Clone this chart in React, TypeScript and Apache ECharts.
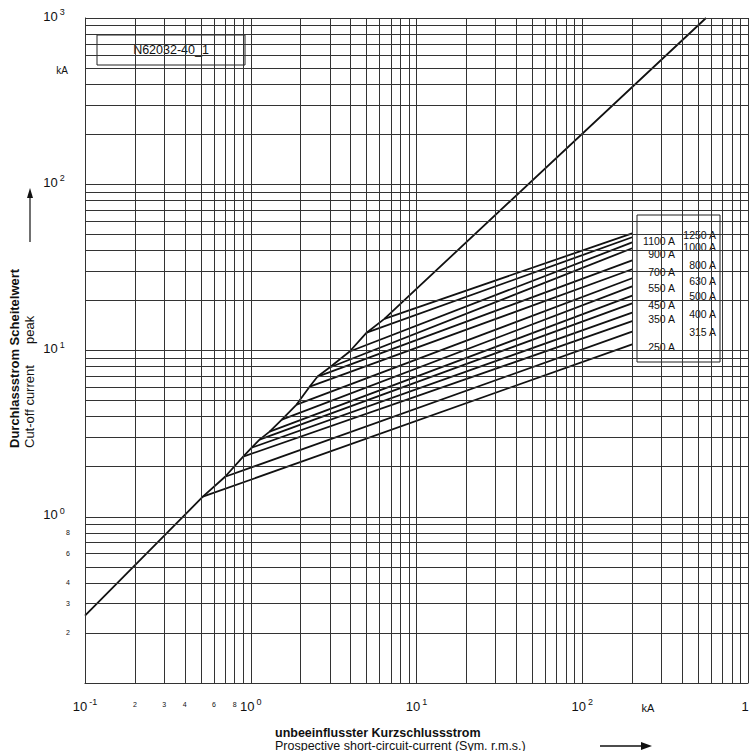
import { useEffect, useRef } from "react";
import * as echarts from "echarts";

const ratings = ["250 A", "315 A", "350 A", "400 A", "450 A", "500 A", "550 A", "630 A", "700 A", "800 A", "900 A", "1000 A", "1100 A", "1250 A"];
// breakpoint on the envelope [kA prospective, kA peak]
const breakX = [0.514, 0.7, 0.9, 1.01, 1.13, 1.3, 1.54, 1.89, 2.27, 2.53, 2.99, 3.95, 5.0, 6.4];
const breakY = [1.32, 1.74, 2.3, 2.6, 2.91, 3.25, 3.84, 4.73, 6.07, 6.97, 7.9, 9.86, 12.8, 15.5];
const endX = 200;
const endY = [10.9, 13.0, 15.0, 16.9, 19.2, 21.4, 24.3, 27.2, 30.8, 34.8, 41.2, 44.7, 48.0, 50.7];
const envStart = [0.1, 0.254];
const envEnd = [558, 1000];

const xDecades = [0.1, 1, 10, 100];
const yDecades = [0.1, 1, 10, 100];
const mults = [1, 2, 3, 4, 5, 6, 7, 8, 9];
const xMinorLabels = [2, 3, 4, 6, 8]; // in 0.1 decade
const yMinorLabels = [2, 3, 4, 6, 8];

// legend columns: [text, y]
const legLeft = [["1100 A", 241], ["900 A", 254], ["700 A", 272], ["550 A", 288], ["450 A", 305], ["350 A", 319], ["250 A", 347]];
const legRight = [["1250 A", 235], ["1000 A", 247], ["800 A", 265], ["630 A", 281], ["500 A", 296], ["400 A", 314], ["315 A", 332]];

const FONT = "Liberation Sans";

export default function App() {
  const ref = useRef<HTMLDivElement>(null);

  useEffect(() => {
    const el = ref.current;
    if (!el) return;
    const chart = echarts.init(el, undefined, { renderer: "svg" });

    const gridX: number[] = [];
    xDecades.forEach((d) => mults.forEach((m) => gridX.push(+(d * m).toPrecision(3))));
    gridX.push(1000);
    const gridY: number[] = [];
    yDecades.forEach((d) => mults.forEach((m) => gridY.push(+(d * m).toPrecision(3))));
    gridY.push(1000);

    const lineStyle = { color: "#111", width: 1.8 };
    const fuses = ratings.map((name, i) => ({
      name,
      type: "line",
      data: [
        [breakX[i], breakY[i]],
        [endX, endY[i]],
      ],
      symbol: "none",
      lineStyle,
      silent: true,
    }));
    const env = {
      name: "envelope",
      type: "line",
      data: [envStart, ...breakX.map((x, i) => [x, breakY[i]]), envEnd],
      symbol: "none",
      lineStyle,
      silent: true,
    };
    const grid = {
      type: "line",
      data: [],
      markLine: {
        silent: true,
        symbol: "none",
        animation: false,
        label: { show: false },
        lineStyle: { color: "#333", width: 1, type: "solid" },
        data: [...gridX.map((v) => ({ xAxis: v })), ...gridY.map((v) => ({ yAxis: v }))],
      },
    };

    chart.setOption({
      animation: false,
      grid: { left: 85, right: 2, top: 18, bottom: 68 },
      xAxis: {
        type: "log",
        min: 0.1,
        max: 1000,
        axisLabel: { show: false },
        axisTick: { show: false },
        splitLine: { show: false },
        axisLine: { lineStyle: { color: "#222" } },
      },
      yAxis: {
        type: "log",
        min: 0.1,
        max: 1000,
        axisLabel: { show: false },
        axisTick: { show: false },
        splitLine: { show: false },
        axisLine: { lineStyle: { color: "#222" } },
      },
      series: [grid, env, ...fuses],
    });

    const px = (x: number) => chart.convertToPixel({ xAxisIndex: 0 }, x) as number;
    const py = (y: number) => chart.convertToPixel({ yAxisIndex: 0 }, y) as number;
    const rich = {
      b: { fontFamily: FONT, fontSize: 13, fill: "#111" },
      s: { fontFamily: FONT, fontSize: 9, fill: "#111", verticalAlign: "top", padding: [0, 0, 8, 2] },
    };
    const txt = (x: number, y: number, text: string, o: any = {}) => ({
      type: "text",
      x,
      y,
      silent: true,
      style: { text, fontFamily: FONT, fontSize: 11, fill: "#111", align: "center", verticalAlign: "middle", ...o },
    });
    const pow = (x: number, y: number, e: string, align = "center") => ({
      type: "text",
      x,
      y,
      silent: true,
      style: { text: `{b|10}{s|${e}}`, rich, align, verticalAlign: "middle" },
    });
    const vtxt = (x: number, y: number, text: string, o: any = {}) => ({
      type: "text",
      x,
      y,
      rotation: Math.PI / 2,
      silent: true,
      style: { text, fontFamily: FONT, fontSize: 13, fill: "#111", align: "left", verticalAlign: "middle", ...o },
    });

    const g: any[] = [];
    // y tick labels
    [0, 1, 2, 3].forEach((e) => g.push(pow(54, py(Math.pow(10, e)) - 2, String(e))));
    yMinorLabels.forEach((m) => g.push(txt(68, py(m / 10), String(m), { fontSize: 7 })));
    g.push(txt(62, 70, "kA", { fontSize: 10 }));
    // x tick labels
    [-1, 0, 1, 2].forEach((e) => g.push(pow(px(Math.pow(10, e)), 706, String(e))));
    xMinorLabels.forEach((m) => g.push(txt(px(m / 10), 704, String(m), { fontSize: 7 })));
    g.push(txt(648, 708, "kA", { fontSize: 11 }));
    g.push(txt(745, 706, "1", { fontSize: 13 }));

    // id box
    g.push({ type: "rect", shape: { x: 97, y: 35, width: 148, height: 30 }, style: { fill: "#fff", stroke: "#222", lineWidth: 1 } });
    g.push(txt(171, 50, "N62032-40_1", { fontSize: 12.5 }));
    // legend box
    g.push({ type: "rect", shape: { x: 637, y: 215, width: 83, height: 147 }, style: { fill: "#fff", stroke: "#222", lineWidth: 1 } });
    legLeft.forEach(([t, y]) => g.push(txt(675, y as number, t as string, { align: "right", fontSize: 10.5 })));
    legRight.forEach(([t, y]) => g.push(txt(716, y as number, t as string, { align: "right", fontSize: 10.5 })));

    // axis titles
    g.push(vtxt(14, 448, "Durchlassstrom Scheitelwert", { fontWeight: "bold" }));
    g.push(vtxt(29, 448, "Cut-off current"));
    g.push(vtxt(29, 344, "peak"));
    g.push({ type: "line", shape: { x1: 30, y1: 242, x2: 30, y2: 192 }, style: { stroke: "#111", lineWidth: 1.2 } });
    g.push({ type: "polygon", shape: { points: [[30, 188], [27, 198], [33, 198]] }, style: { fill: "#111" } });
    g.push(txt(275, 733, "unbeeinflusster Kurzschlussstrom", { fontWeight: "bold", align: "left", fontSize: 12.5 }));
    g.push(txt(275, 745.5, "Prospective short-circuit-current (Sym. r.m.s.)", { align: "left", fontSize: 12.5 }));
    g.push({ type: "line", shape: { x1: 600, y1: 746, x2: 644, y2: 746 }, style: { stroke: "#111", lineWidth: 1.5 } });
    g.push({ type: "polygon", shape: { points: [[652, 746], [641, 742], [641, 750]] }, style: { fill: "#111" } });

    chart.setOption({ graphic: g });

    return () => chart.dispose();
  }, []);

  return <div ref={ref} style={{ position: "absolute", left: 0, top: 0, width: 750, height: 751, background: "#fff" }} />;
}
